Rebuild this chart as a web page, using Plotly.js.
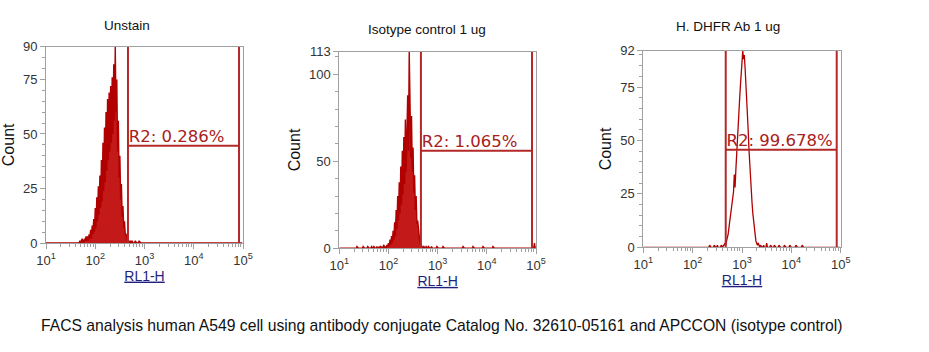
<!DOCTYPE html>
<html><head><meta charset="utf-8">
<script src="https://cdn.plot.ly/plotly-3.0.1.min.js"></script>
<style>html,body{margin:0;padding:0;background:#fff}#chart{width:929px;height:352px}</style>
</head><body><div id="chart"></div>
<script>
// ---- data ----
const panelTitles = ['Unstain', 'Isotype control 1 ug', 'H. DHFR Ab 1 ug'];
const xAxisTitle = 'RL1-H';
const yAxisTitle = 'Count';
const caption = 'FACS analysis human A549 cell using antibody conjugate Catalog No. 32610-05161 and APCCON (isotype control)';

const xTickVals = [10, 100, 1000, 10000, 100000];
const xTickText = ['10<sup>1</sup>', '10<sup>2</sup>', '10<sup>3</sup>', '10<sup>4</sup>', '10<sup>5</sup>'];

const yMax = [90, 113, 92];
const yTickVals1 = [0, 25, 50, 75, 90];
const yTickVals2 = [0, 50, 100, 113];
const yTickVals3 = [0, 25, 50, 75, 92];
const yMinorStep = [5, 10, 5];

// gate R2 (RL1-H values) and the level of its horizontal bar (Count)
const gateLow = [462, 457, 468];
const gateHigh = [83000, 83000, 83000];
const gateLevel = [44.6, 56.1, 45.7];
const gateLabels = ['R2: 0.286%', 'R2: 1.065%', 'R2: 99.678%'];

// histogram counts: 256 log channels over 4 decades (64 per decade)
const startCh1 = 44;
const counts1 = [1,0,1,2,1,0,2,1,3,1, 3,1,4,2,6,2,8,4,11,5, 16,7,21,10,26,13,31,16,38,19,
  46,24,53,28,60,33,66,38,69,42, 72,46,76,50,82,56,90,60,75,42, 56,30,40,20,27,12,17,7,10,4,
  4,2,1,0,1,0,1,0,1,0];
const sparseCh1 = [116, 121];
const sparseCount1 = [1, 1];

const startCh2 = 56;
const counts2 = [0,1,2,0,1,0,2,1,3,1, 5,2,7,3,10,5,15,7,22,11, 30,16,38,20,47,25,56,31,64,37,
  74,44,84,88,56,113,85,52,76,44, 58,32,42,22,30,14,16,8,7,3, 2,1,1,0,1,0];
const sparseCh2 = [23, 31, 37, 42, 45, 49, 52, 54, 113, 116, 120, 127, 135, 161, 174, 187, 200, 254];
const sparseCount2 = [1, 1, 1, 1, 1, 1, 1, 1, 1, 1, 1, 1, 1, 1, 1, 1, 1, 3];

const startCh3 = 100;
const counts3 = [0,1,0,0,1,1,2,1,3,4, 6,9,12,14,17,20,23,26,34,28, 36,44,50,57,64,70,76,82,86,92,
  88,90,84,78,71,63,55,46,38,32, 26,21,16,12,8,5,3,2,1,2, 1,0,1];
const sparseCh3 = [86, 92, 96, 156, 160, 165, 170, 176, 183, 190, 198, 206];
const sparseCount3 = [1, 1, 1, 1, 2, 1, 1, 1, 1, 1, 1, 1];

// ---- style ----
const histColor = '#b00000';
const histWidth = [1.4, 1.4, 1.3];
const histFill = ['rgba(188,0,0,0.9)', 'rgba(188,0,0,0.9)', null];
const gateColor = '#b42828';
const axisGray = '#a0a0a0';
const tickFont = {family: 'Liberation Sans, Arial, sans-serif', size: 13, color: '#333'};

const xDomains = [[46/929, 243/929], [339.3/929, 536/929], [643.3/929, 840.7/929]];
const yDomains = [[(352-243)/352, (352-46.7)/352], [(352-248.3)/352, (352-51.7)/352], [(352-247.3)/352, (352-50.7)/352]];
const titlePos = [[127, 25], [427, 30], [728, 27]];

const CH = 256, PER_DEC = 64;
function chValue(ch) { return Math.pow(10, 1 + ch / PER_DEC); }
function fullHist(start, counts, sCh, sCount) {
  const arr = new Array(CH).fill(0);
  counts.forEach((c, i) => { arr[start + i] = c; });
  sCh.forEach((ch, i) => { arr[ch] = sCount[i]; });
  return {x: arr.map((_, i) => chValue(i)), y: arr};
}
const hists = [
  fullHist(startCh1, counts1, sparseCh1, sparseCount1),
  fullHist(startCh2, counts2, sparseCh2, sparseCount2),
  fullHist(startCh3, counts3, sparseCh3, sparseCount3)
];
const yTickVals = [yTickVals1, yTickVals2, yTickVals3];

const minorX = [];
for (let d = 1; d < 5; d++) for (let m = 2; m <= 9; m++) minorX.push(m * Math.pow(10, d));

const traces = [];
const layout = {
  width: 929, height: 352, margin: {l: 0, r: 0, t: 0, b: 0},
  paper_bgcolor: '#fff', plot_bgcolor: '#fff', showlegend: false, hovermode: false,
  annotations: [], shapes: []
};

for (let p = 0; p < 3; p++) {
  const n = p + 1;
  const xa = 'x' + (n === 1 ? '' : n), ya = 'y' + (n === 1 ? '' : n);
  const h = {type: 'scatter', mode: 'lines', x: hists[p].x, y: hists[p].y, xaxis: xa, yaxis: ya,
    line: {color: histColor, width: histWidth[p]}, cliponaxis: true};
  if (histFill[p]) { h.fill = 'tozeroy'; h.fillcolor = histFill[p]; }
  traces.push(h);
  traces.push({type: 'scatter', mode: 'lines', xaxis: xa, yaxis: ya,
    x: [gateLow[p], gateLow[p], null, gateHigh[p], gateHigh[p], null, gateLow[p], gateHigh[p]],
    y: [0, yMax[p], null, 0, yMax[p], null, gateLevel[p], gateLevel[p]],
    line: {color: gateColor, width: 2}});
  traces.push({type: 'scatter', mode: 'text', xaxis: xa, yaxis: ya,
    x: [gateLow[p] * 1.04], y: [gateLevel[p]], text: [gateLabels[p]], textposition: 'top right',
    textfont: {family: 'DejaVu Sans, Verdana, sans-serif', size: 16.5, color: '#a82020'}, cliponaxis: false});

  layout['xaxis' + (n === 1 ? '' : n)] = {
    type: 'log', domain: xDomains[p], range: [1, 5], anchor: ya,
    showline: true, linecolor: axisGray, linewidth: 1, mirror: true,
    ticks: 'outside', ticklen: 5, tickcolor: axisGray,
    tickmode: 'array', tickvals: xTickVals, ticktext: xTickText, tickfont: tickFont,
    minor: {tickmode: 'array', tickvals: minorX, ticks: 'outside', ticklen: 3, tickcolor: axisGray, showgrid: false},
    showgrid: false, zeroline: false, fixedrange: true,
    title: {text: '<span style="text-decoration:underline">' + xAxisTitle + '</span>', standoff: 2,
      font: {family: 'Liberation Sans, Arial, sans-serif', size: 14, color: '#1f1f80'}}
  };
  layout['yaxis' + (n === 1 ? '' : n)] = {
    domain: yDomains[p], range: [0, yMax[p]], anchor: xa,
    showline: true, linecolor: axisGray, linewidth: 1, mirror: true,
    ticks: 'outside', ticklen: 5, tickcolor: axisGray,
    tickmode: 'array', tickvals: yTickVals[p], tickfont: tickFont,
    minor: {dtick: yMinorStep[p], ticks: 'outside', ticklen: 3, tickcolor: axisGray, showgrid: false},
    showgrid: false, zeroline: false, fixedrange: true,
    title: {text: yAxisTitle, standoff: 4, font: {family: 'Liberation Sans, Arial, sans-serif', size: 16, color: '#111'}}
  };
  layout.annotations.push({xref: 'paper', yref: 'paper', x: titlePos[p][0] / 929, y: 1 - titlePos[p][1] / 352,
    xanchor: 'center', yanchor: 'middle', showarrow: false, text: panelTitles[p],
    font: {family: 'Liberation Sans, Arial, sans-serif', size: 13.5, color: '#111'}});
}
layout.annotations.push({xref: 'paper', yref: 'paper', x: 441.5 / 929, y: 1 - 325 / 352,
  xanchor: 'center', yanchor: 'middle', showarrow: false, text: caption,
  font: {family: 'Liberation Sans, Arial, sans-serif', size: 15.7, color: '#111'}});

Plotly.newPlot('chart', traces, layout, {displayModeBar: false, staticPlot: true});
</script>
</body></html>
